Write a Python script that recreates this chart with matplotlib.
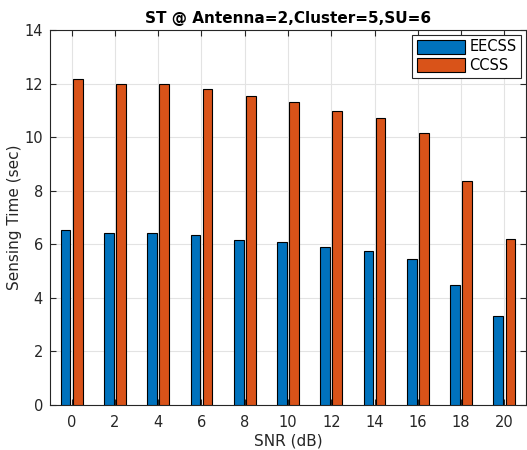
import numpy as np
import matplotlib.pyplot as plt

snr = [0, 2, 4, 6, 8, 10, 12, 14, 16, 18, 20]
eecss = [6.53, 6.43, 6.43, 6.33, 6.17, 6.07, 5.90, 5.75, 5.45, 4.49, 3.32]
ccss = [12.16, 11.99, 11.99, 11.80, 11.54, 11.31, 10.98, 10.71, 10.17, 8.37, 6.19]

blue = "#0072BD"
orange = "#D95319"

fig = plt.figure(figsize=(5.27, 4.5), dpi=100)
ax = fig.add_axes([50 / 527, 1 - 405 / 450, 476 / 527, 375 / 450])

x = np.array(snr)
w = 0.45
ax.bar(x - 0.28, eecss, width=w, color=blue, edgecolor="black", linewidth=0.8,
       label="EECSS", zorder=3)
ax.bar(x + 0.28, ccss, width=w, color=orange, edgecolor="black", linewidth=0.8,
       label="CCSS", zorder=3)

ax.set_xlim(-1, 21)
ax.set_ylim(0, 14)
ax.set_xticks(snr)
ax.set_yticks(range(0, 15, 2))
ax.tick_params(direction="in", top=True, right=True, labelsize=10.5,
               colors="#262626", length=4)
ax.tick_params(axis="x", pad=7)
ax.tick_params(axis="y", pad=5)
ax.grid(True, color="#e3e3e3", linewidth=0.8, zorder=0)
ax.set_axisbelow(True)
for s in ax.spines.values():
    s.set_color("#262626")
    s.set_linewidth(0.8)

ax.set_xlabel("SNR (dB)", fontsize=11, color="#262626", labelpad=3)
ax.set_ylabel("Sensing Time (sec)", fontsize=11, color="#262626", labelpad=2)
ax.set_title("ST @ Antenna=2,Cluster=5,SU=6", fontsize=11, fontweight="bold", pad=5)

leg = ax.legend(loc="upper right", fontsize=10.5, fancybox=False, framealpha=1,
                edgecolor="#262626", borderaxespad=0.35, handlelength=3.3,
                handleheight=1.1, labelspacing=0.25, handletextpad=0.3,
                borderpad=0.3)
leg.get_frame().set_linewidth(0.8)

fig.savefig("out.png", dpi=100)
